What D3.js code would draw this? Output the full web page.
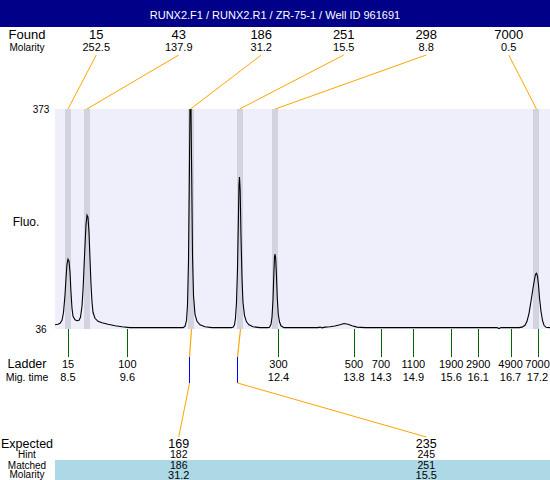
<!DOCTYPE html>
<html><head><meta charset="utf-8">
<script src="https://cdn.jsdelivr.net/npm/d3@7/dist/d3.min.js"></script>
<style>body{margin:0;background:#fff;} svg{display:block;font-family:"Liberation Sans",Arial,sans-serif;}</style>
</head><body><svg id="c" width="550" height="480"></svg>
<script>
const title = "RUNX2.F1 / RUNX2.R1 / ZR-75-1 / Well ID 961691";
const foundSizes = ["15","43","186","251","298","7000"];
const foundMolarity = ["252.5","137.9","31.2","15.5","8.8","0.5"];
const foundTimes = [8.50, 8.85, 10.77, 11.68, 12.34, 17.18];
const ladderSizes = [15,100,300,500,700,1100,1900,2900,4900,7000];
const ladderTimes = [8.5,9.6,12.4,13.8,14.3,14.9,15.6,16.1,16.7,17.2];
const ladderTimeLabels = ["8.5","9.6","12.4","13.8","14.3","14.9","15.6","16.1","16.7","17.2"];
const expectedSizes = ["169","235"];
const hintSizes = [182,245];
const matchedSizes = ["186","251"];
const matchedMolarity = ["31.2","15.5"];
const matchedTimes = [10.77, 11.68];
const yTicks = [36,373];
const timeDomain = [8.259, 17.431];
const traceTime = [8.259,8.315,8.352,8.389,8.417,8.444,8.463,8.481,8.500,8.518,8.537,8.555,8.574,8.593,8.630,8.667,8.704,8.731,8.759,8.778,8.796,8.815,8.833,8.852,8.870,8.889,8.907,8.926,8.945,8.963,9.000,9.056,9.130,9.241,9.371,9.500,9.649,10.631,
 10.668,10.696,10.714,10.733,10.748,10.760,10.779,10.792,10.807,10.825,10.853,10.890,10.946,11.038,11.168,11.520,
 11.557,11.585,11.603,11.622,11.640,11.655,11.668,11.677,11.690,11.705,11.724,11.742,11.770,11.807,11.853,11.928,12.057,12.206,
 12.233,12.261,12.280,12.298,12.313,12.326,12.335,12.348,12.363,12.378,12.396,12.418,12.446,12.502,13.132,13.169,13.206,13.262,13.354,13.447,13.540,13.614,13.688,13.762,13.855,14.003,16.449,16.486,16.523,16.857,16.912,16.968,17.005,17.042,17.079,17.116,17.144,17.163,17.181,17.200,17.218,17.237,17.264,17.292,17.320,17.357,17.431];
const traceFluo = [42.4,43.2,44.7,49.3,61.6,87.7,113.8,135.2,142.9,139.9,123.0,92.3,67.8,55.5,50.1,48.6,49.3,53.9,70.8,95.4,129.1,164.4,195.1,210.4,207.3,184.3,144.5,104.6,77.0,61.6,52.4,47.8,45.5,43.2,40.9,39.4,38.1,38.1,
 40.1,49.3,72.4,141.4,264.1,373,373,271.8,149.1,87.7,58.5,47.8,42.4,39.4,38.1,38.1,
 38.6,42.4,52.4,77.0,126.0,195.1,256.4,268.7,248.8,179.7,113.8,77.0,57.0,47.0,42.4,39.4,38.1,38.1,
 38.6,43.2,53.9,80.1,118.4,146.0,150.6,144.5,116.8,83.1,58.5,47.0,40.9,38.1,38.1,38.9,37.8,38.9,39.4,40.6,42.4,44.3,43.2,40.9,38.9,38.1,38.1,36.6,38.1,38.1,38.9,41.7,47.8,60.1,78.5,98.4,112.2,119.9,121.4,116.8,103.0,83.1,63.2,49.3,41.7,38.6,38.1];

const W = 550, H = 480;
const L = 55, R = 550, T = 109, B = 329;
const svg = d3.select("#c");
const x = d3.scaleLinear().domain(timeDomain).range([L, R]);
const y = d3.scaleLinear().domain([yTicks[0], yTicks[1]]).range([B, T]);
const px = v => Math.round(v) + 0.5;
const topSlots = d3.scaleBand().domain(d3.range(foundSizes.length)).range([L, R]);
const botSlots = d3.scaleBand().domain(d3.range(expectedSizes.length)).range([L, R]);
const sizeToTime = d3.scaleLinear().domain(ladderSizes).range(ladderTimes);

// title bar
svg.append("rect").attr("x",0).attr("y",0).attr("width",W).attr("height",27).attr("fill","#000088");
svg.append("text").attr("x",W/2).attr("y",19).attr("text-anchor","middle").attr("fill","#fff").attr("font-size",11).text(title);

// Found rows
svg.append("text").attr("x",27).attr("y",39).attr("text-anchor","middle").attr("font-size",13).text("Found");
svg.append("text").attr("x",27).attr("y",50.5).attr("text-anchor","middle").attr("font-size",10).text("Molarity");
svg.selectAll(".fs").data(foundSizes).join("text").attr("x",(d,i)=>topSlots(i)+topSlots.bandwidth()/2).attr("y",39)
  .attr("text-anchor","middle").attr("font-size",13).text(d=>d);
svg.selectAll(".fm").data(foundMolarity).join("text").attr("x",(d,i)=>topSlots(i)+topSlots.bandwidth()/2).attr("y",50.5)
  .attr("text-anchor","middle").attr("font-size",11).text(d=>d);

// plot background
svg.append("rect").attr("x",L).attr("y",T).attr("width",R-L).attr("height",B-T).attr("fill","#efeffc");
svg.selectAll(".band").data(foundTimes).join("rect").attr("x",d=>Math.round(x(d)-3)).attr("y",T).attr("width",6).attr("height",B-T).attr("fill","#d3d3e0");

// trace
svg.append("clipPath").attr("id","clip").append("rect").attr("x",L).attr("y",T).attr("width",R-L).attr("height",B-T);
const pts = traceTime.map((t,i)=>[t, traceFluo[i]]);
svg.append("path").datum(pts).attr("clip-path","url(#clip)").attr("fill","none").attr("stroke","#000").attr("stroke-width",1.1)
  .attr("d", d3.line().x(d=>x(d[0])).y(d=>y(d[1])));

// top connector lines
svg.selectAll(".tl").data(foundTimes).join("line")
  .attr("x1",(d,i)=>topSlots(i)+topSlots.bandwidth()/2).attr("y1",55).attr("x2",d=>x(d)).attr("y2",T)
  .attr("stroke","orange").attr("stroke-width",1);

// y labels
svg.selectAll(".yl").data(yTicks).join("text").attr("x",41).attr("y",d=>y(d)+4).attr("text-anchor","middle").attr("font-size",10).text(d=>d);
svg.append("text").attr("x",26).attr("y",226).attr("text-anchor","middle").attr("font-size",12).text("Fluo.");

// ladder
svg.selectAll(".lt").data(ladderTimes).join("line").attr("x1",d=>px(x(d))).attr("x2",d=>px(x(d))).attr("y1",B).attr("y2",357)
  .attr("stroke","#006600").attr("stroke-width",1).attr("shape-rendering","crispEdges");
svg.append("text").attr("x",27).attr("y",368).attr("text-anchor","middle").attr("font-size",12.5).text("Ladder");
svg.append("text").attr("x",27).attr("y",381).attr("text-anchor","middle").attr("font-size",10.5).text("Mig. time");
svg.selectAll(".ls").data(ladderSizes).join("text").attr("x",(d,i)=>x(ladderTimes[i])).attr("y",368).attr("text-anchor","middle").attr("font-size",11).text(d=>d);
svg.selectAll(".lm").data(ladderTimeLabels).join("text").attr("x",(d,i)=>x(ladderTimes[i])).attr("y",381).attr("text-anchor","middle").attr("font-size",11).text(d=>d);

// expected connectors
matchedTimes.forEach((t,i)=>{
  const hx = px(x(sizeToTime(hintSizes[i])));
  const lx = botSlots(i)+botSlots.bandwidth()/2;
  svg.append("line").attr("x1",px(x(t))).attr("y1",B).attr("x2",hx).attr("y2",357).attr("stroke","orange").attr("stroke-width",1.2);
  svg.append("line").attr("x1",hx).attr("y1",357).attr("x2",hx).attr("y2",383).attr("stroke","blue").attr("shape-rendering","crispEdges");
  svg.append("line").attr("x1",hx).attr("y1",383).attr("x2",lx).attr("y2",437).attr("stroke","orange");
});

// bottom table
svg.append("rect").attr("x",L).attr("y",460).attr("width",R-L).attr("height",20).attr("fill","#add8e6");
svg.append("text").attr("x",27).attr("y",447.5).attr("text-anchor","middle").attr("font-size",12.5).text("Expected");
svg.append("text").attr("x",27).attr("y",458).attr("text-anchor","middle").attr("font-size",10).text("Hint");
svg.append("text").attr("x",27).attr("y",468.5).attr("text-anchor","middle").attr("font-size",10).text("Matched");
svg.append("text").attr("x",27).attr("y",478).attr("text-anchor","middle").attr("font-size",10).text("Molarity");
const bx = (d,i)=>botSlots(i)+botSlots.bandwidth()/2;
svg.selectAll(".ex").data(expectedSizes).join("text").attr("x",bx).attr("y",447.5).attr("text-anchor","middle").attr("font-size",12.5).text(d=>d);
svg.selectAll(".hi").data(hintSizes).join("text").attr("x",bx).attr("y",458).attr("text-anchor","middle").attr("font-size",10.5).text(d=>d);
svg.selectAll(".ma").data(matchedSizes).join("text").attr("x",bx).attr("y",468.5).attr("text-anchor","middle").attr("font-size",10.5).text(d=>d);
svg.selectAll(".mo").data(matchedMolarity).join("text").attr("x",bx).attr("y",478.5).attr("text-anchor","middle").attr("font-size",11).text(d=>d);
</script></body></html>
